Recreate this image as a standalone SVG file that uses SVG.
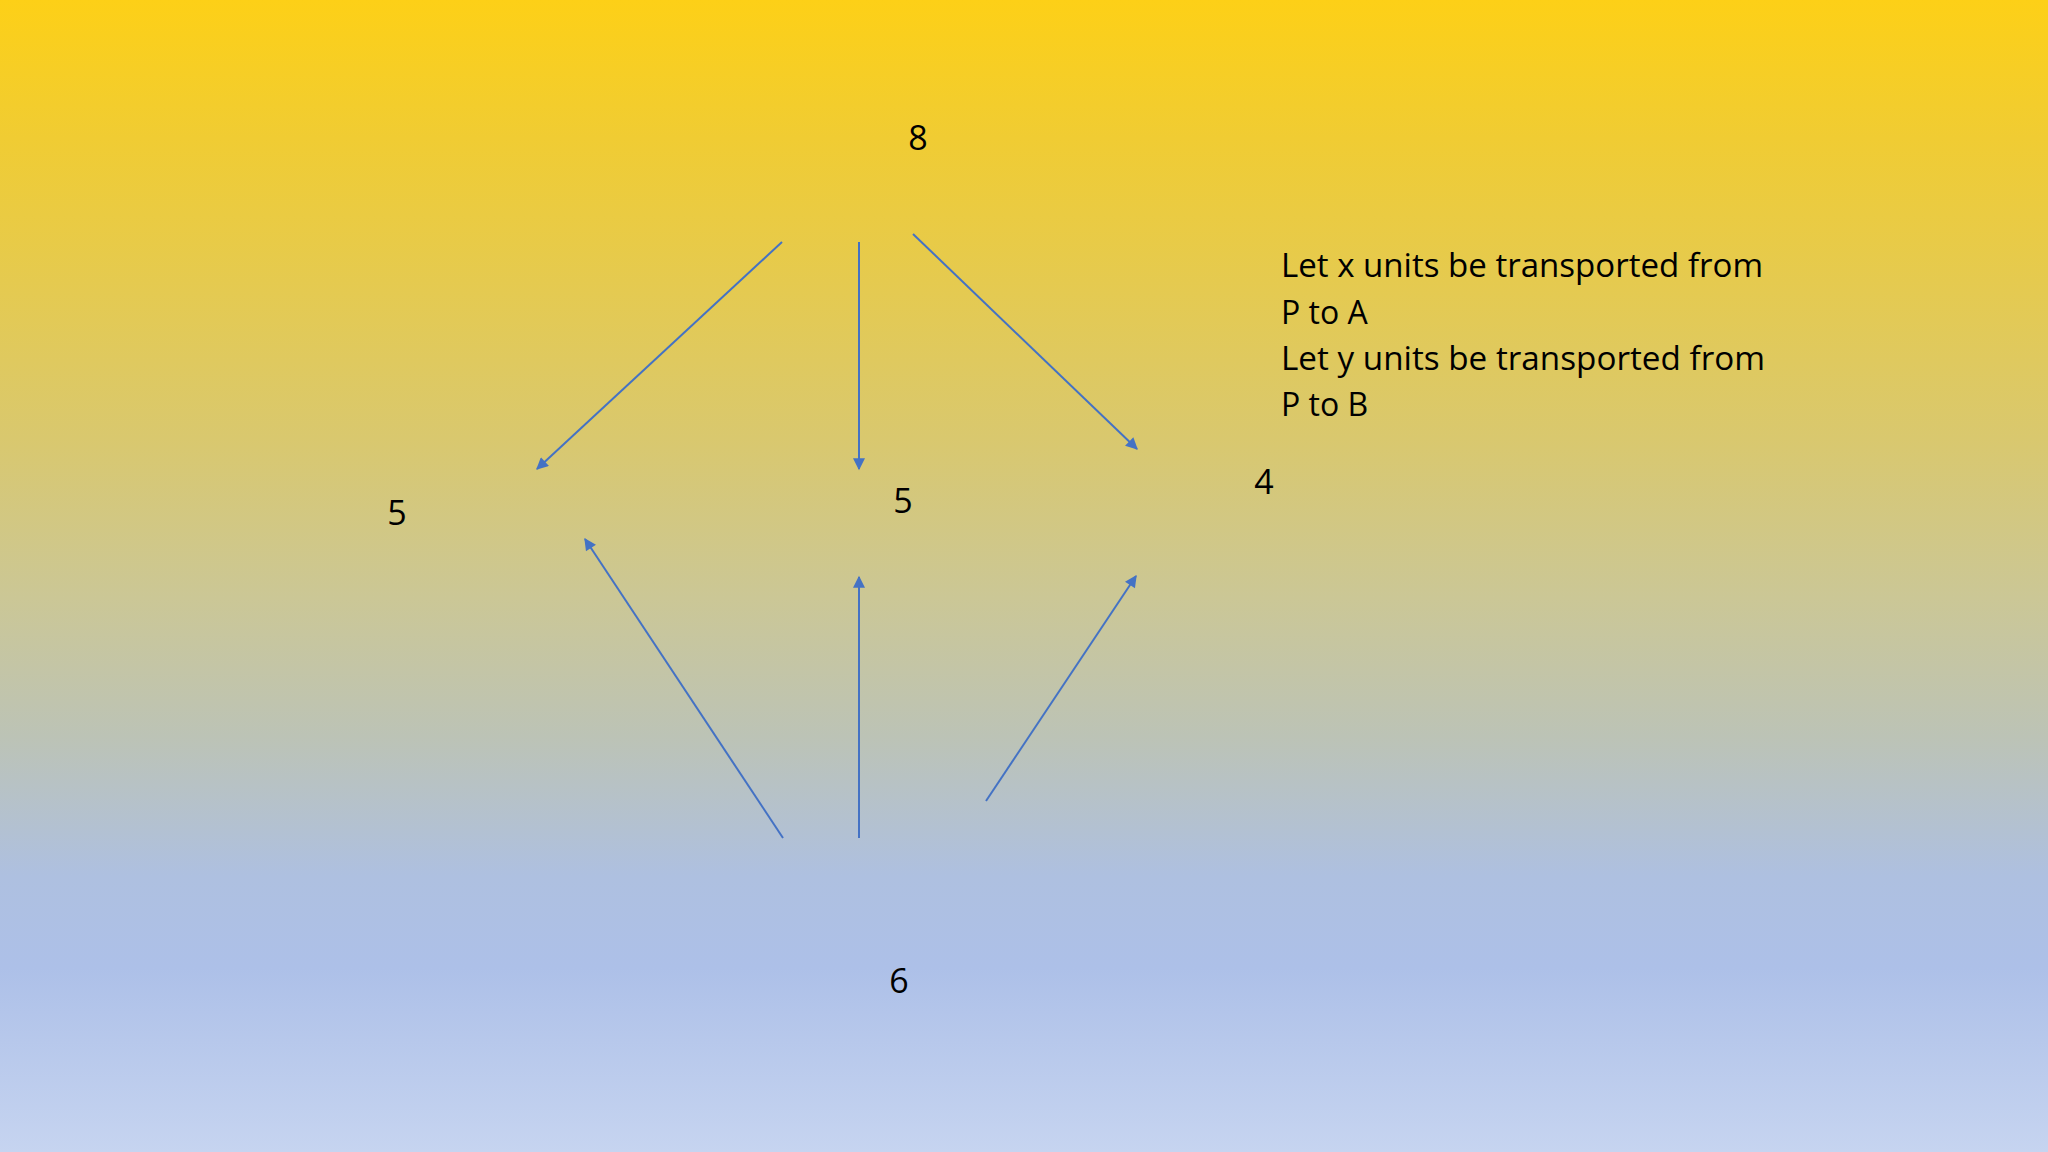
<svg xmlns="http://www.w3.org/2000/svg" width="2048" height="1152" viewBox="0 0 2048 1152">
  <defs>
    <linearGradient id="bg" x1="0" y1="0" x2="0" y2="1">
      <stop offset="0" stop-color="#fdd017"/>
      <stop offset="0.12" stop-color="#f0cc33"/>
      <stop offset="0.38" stop-color="#d9c86e"/>
      <stop offset="0.52" stop-color="#cbc796"/>
      <stop offset="0.64" stop-color="#bcc3b6"/>
      <stop offset="0.76" stop-color="#aec0e0"/>
      <stop offset="0.84" stop-color="#adc0e8"/>
      <stop offset="1" stop-color="#c6d4f0"/>
    </linearGradient>
    <marker id="ah" viewBox="0 0 10 10" refX="9" refY="5" markerWidth="7" markerHeight="6" markerUnits="strokeWidth" orient="auto">
      <path d="M0,0 L10,5 L0,10 z" fill="#4472c4"/>
    </marker>
    <style>
      .num { font-family: "Open Sans", "Liberation Sans", sans-serif; font-size: 34px; fill: #000; text-anchor: middle; }
      .txt { font-family: "Open Sans", "Liberation Sans", sans-serif; font-size: 32px; fill: #000; }
      .conn line { stroke: #4472c4; stroke-width: 2; marker-end: url(#ah); }
    </style>
  </defs>
  <rect x="0" y="0" width="2048" height="1152" fill="url(#bg)"/>

  <g id="node-top"><text class="num" x="918" y="150">8</text></g>
  <g id="node-left"><text class="num" x="397" y="525">5</text></g>
  <g id="node-mid"><text class="num" x="903" y="513">5</text></g>
  <g id="node-right"><text class="num" x="1264" y="494">4</text></g>
  <g id="node-bottom"><text class="num" x="899" y="993">6</text></g>

  <g id="note">
    <text class="txt" x="1281" y="277" textLength="482" lengthAdjust="spacingAndGlyphs">Let x units be transported from</text>
    <text class="txt" x="1281" y="324">P to A</text>
    <text class="txt" x="1281" y="370" textLength="484" lengthAdjust="spacingAndGlyphs">Let y units be transported from</text>
    <text class="txt" x="1281" y="416">P to B</text>
  </g>

  <g id="connectors" class="conn">
    <line x1="782" y1="242" x2="537" y2="469"/>
    <line x1="859" y1="242" x2="859" y2="469"/>
    <line x1="913" y1="234" x2="1137" y2="449"/>
    <line x1="783" y1="838" x2="585" y2="539"/>
    <line x1="859" y1="838" x2="859" y2="577"/>
    <line x1="986" y1="801" x2="1136" y2="576"/>
  </g>
</svg>
